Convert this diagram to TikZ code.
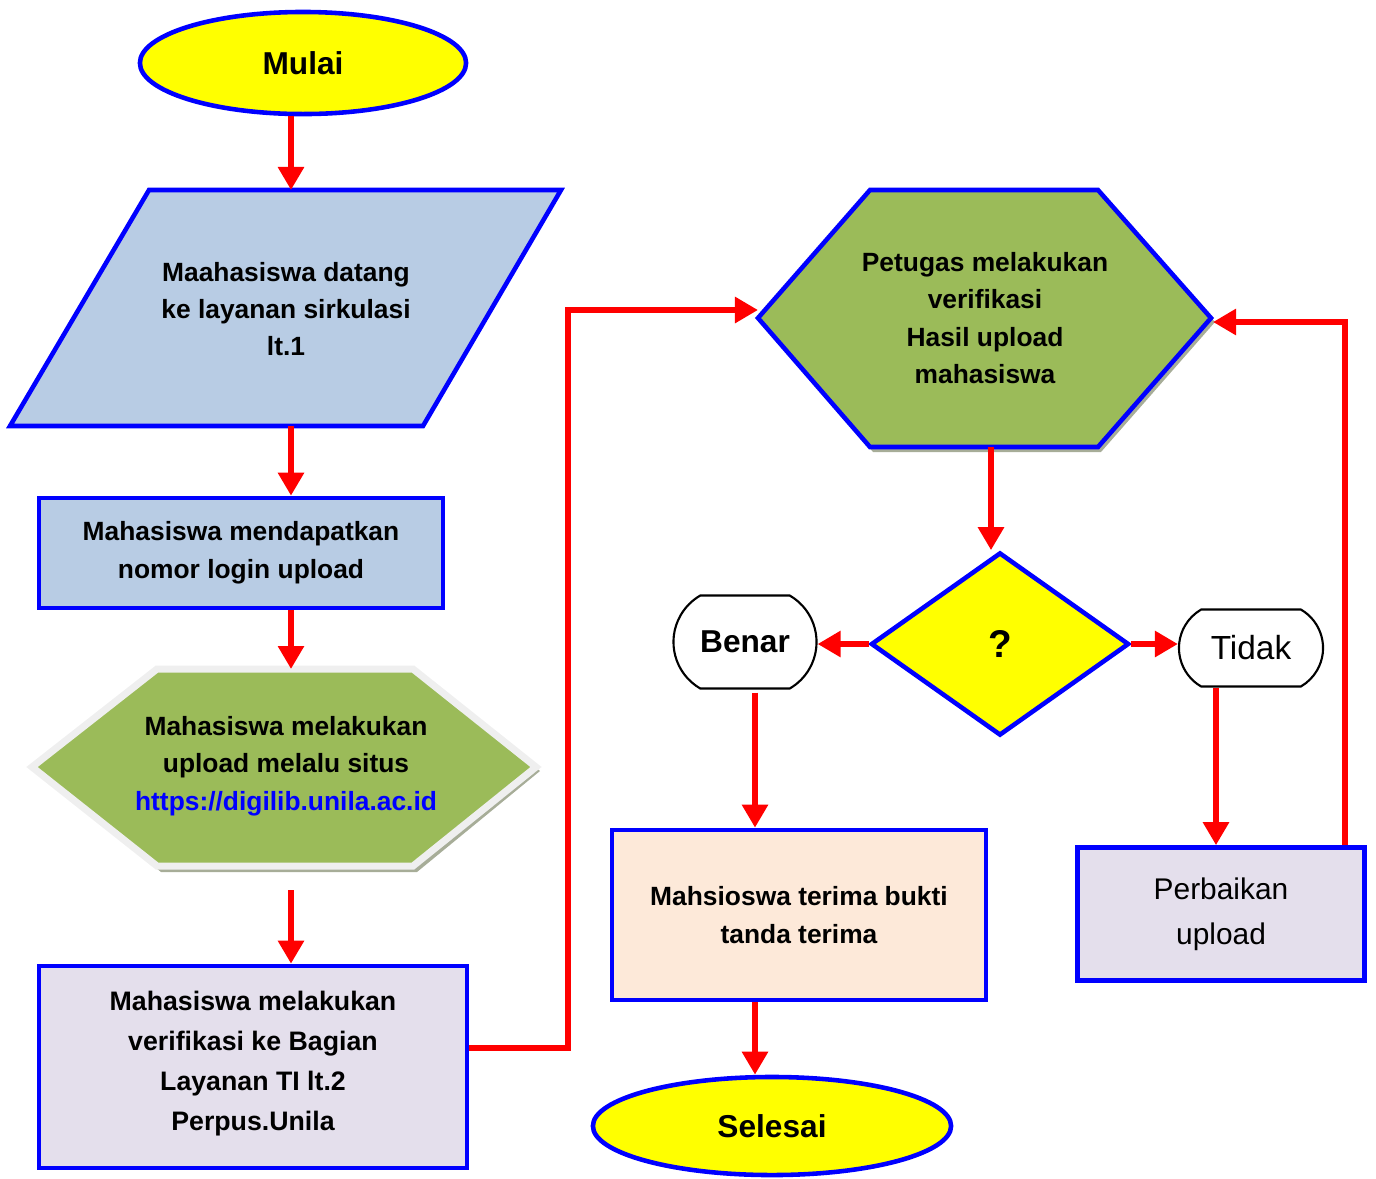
\documentclass[tikz,border=0pt]{standalone}
\usepackage{fontspec}
\setmainfont{Liberation Sans}
\usepackage{tikz}
\usetikzlibrary{positioning,arrows.meta,shapes.geometric,shapes.misc}
\definecolor{garis}{HTML}{0000FF}
\definecolor{kuning}{HTML}{FFFF00}
\definecolor{birumuda}{HTML}{B8CCE4}
\definecolor{hijau}{HTML}{9BBB59}
\definecolor{ungu}{HTML}{E4DFEC}
\definecolor{persik}{HTML}{FDE9D9}
\definecolor{merah}{HTML}{FF0000}
\definecolor{bayang}{HTML}{A7AD98}
\definecolor{tepi}{HTML}{EFEFEF}
\tikzset{
  term/.style={ellipse, fill=kuning, draw=garis, line width=1.3pt, inner sep=0pt,
    font=\bfseries\fontsize{9}{11}\selectfont},
  proc/.style={rectangle, draw=garis, line width=1.3pt, inner sep=0pt, align=center,
    font=\bfseries\fontsize{7.5}{10.8}\selectfont},
  bentuk/.style={draw=garis, line width=1.3pt, line join=miter},
  txt/.style={align=center, font=\bfseries\fontsize{7.5}{10.6}\selectfont},
  cek/.style={diamond, fill=kuning, draw=garis, line width=1.3pt, inner sep=0pt,
    font=\bfseries\fontsize{11}{13}\selectfont},
  pil/.style={rounded rectangle, rounded rectangle arc length=120, draw=black, fill=white,
    line width=0.6pt, inner sep=0pt},
  arr/.style={draw=merah, line width=1.7pt, -{Triangle[length=2.3mm,width=2.5mm]}},
  ln/.style={draw=merah, line width=1.7pt}
}

\begin{document}
\begin{tikzpicture}[x=0.01cm, y=-0.01cm]
  \useasboundingbox (0,0) rectangle (1376,1178);

  % kolom kiri
  \node[term, minimum width=3.26cm, minimum height=1.02cm] (mulai) at (303,63) {Mulai};

  \draw[bentuk, fill=birumuda] (149,190) -- (561,190) -- (423,426) -- (10,426) -- cycle;
  \coordinate (datangN) at (291,190);
  \coordinate (datangS) at (291,426);
  \node[txt] (datang) at (286,309) {Maahasiswa datang\\ke layanan sirkulasi\\lt.1};

  \node[proc, fill=birumuda, minimum width=4.04cm, minimum height=1.10cm] (login) at (241,553)
    {Mahasiswa mendapatkan\\nomor login upload};

  % heksagon upload
  \fill[bayang] (38,771) -- (161,673) -- (417,673) -- (540,771) -- (417,872) -- (161,872) -- cycle;
  \draw[draw=tepi, line width=2pt, fill=hijau, line join=miter]
    (32,767) -- (157,669) -- (413,669) -- (536,767) -- (413,866) -- (157,866) -- cycle;
  \coordinate (uploadN) at (291,669);
  \coordinate (uploadS) at (291,866);
  \node[txt] (upload) at (286,766)
    {Mahasiswa melakukan\\upload melalu situs\\{\color{garis}https://digilib.unila.ac.id}};

  \node[proc, fill=ungu, minimum width=4.28cm, minimum height=2.02cm,
    font=\bfseries\fontsize{7.6}{11.4}\selectfont] (verifikasi) at (253,1067)
    {Mahasiswa melakukan\\verifikasi ke Bagian\\Layanan TI lt.2\\Perpus.Unila\\[-8pt]};

  % heksagon petugas
  \fill[bayang] (762,322) -- (873,193) -- (1101,193) -- (1215,322) -- (1101,452) -- (873,452) -- cycle;
  \draw[bentuk, fill=hijau] (758,318) -- (870,190) -- (1098,190) -- (1211,318) -- (1098,447) -- (870,447) -- cycle;
  \coordinate (petugasW) at (758,310);
  \coordinate (petugasE) at (1213,322);
  \coordinate (petugasS) at (991,447);
  \node[txt] (petugas) at (985,318) {Petugas melakukan\\verifikasi\\Hasil upload\\mahasiswa};

  \node[cek, minimum width=2.58cm, minimum height=1.83cm] (tanya) at (1000,644) {?};

  \node[pil, minimum width=1.43cm, minimum height=0.93cm,
    font=\bfseries\fontsize{9}{11}\selectfont] (benar) at (745,642) {Benar};
  \node[pil, minimum width=1.44cm, minimum height=0.77cm,
    font=\fontsize{9.5}{11}\selectfont] (tidak) at (1251,648) {Tidak};

  \node[proc, fill=persik, minimum width=3.74cm, minimum height=1.70cm] (terima) at (799,915)
    {Mahsioswa terima bukti\\tanda terima};
  \node[proc, fill=ungu, minimum width=2.87cm, minimum height=1.33cm,
    font=\fontsize{8.5}{12.8}\selectfont] (perbaikan) at (1221,914) {Perbaikan\\upload};

  \node[term, minimum width=3.58cm, minimum height=0.98cm] (selesai) at (772,1126) {Selesai};

  % titik bantu
  \coordinate (belok) at (568,1048);
  \coordinate (bx) at (755,0);
  \coordinate (tx) at (1216,0);
  \coordinate (kanan) at (1345,0);

  % panah
  \draw[arr] (mulai.south -| datangN) -- (datangN);
  \draw[arr] (datangS) -- (login.north -| datangS);
  \draw[arr] (login.south -| datangS) -- (uploadN);
  \draw[arr, shorten <=0.24cm] (uploadS) -- (verifikasi.north -| uploadS);
  \draw[arr] (verifikasi.east |- belok) -- (belok) |- (petugasW);
  \draw[arr] (petugasS) -- (petugasS |- tanya.north);
  \draw[arr] (tanya.west) -- (tanya.west -| benar.east);
  \draw[arr] (tanya.east) -- (tanya.east -| tidak.west);
  \draw[arr, shorten <=0.03cm] (benar.south -| bx) -- (terima.north -| bx);
  \draw[arr] (terima.south -| bx) -- (selesai.north -| bx);
  \draw[arr] (tidak.south -| tx) -- (perbaikan.north -| tx);
  \draw[arr] (perbaikan.north -| kanan) |- (petugasE);
\end{tikzpicture}
\end{document}
